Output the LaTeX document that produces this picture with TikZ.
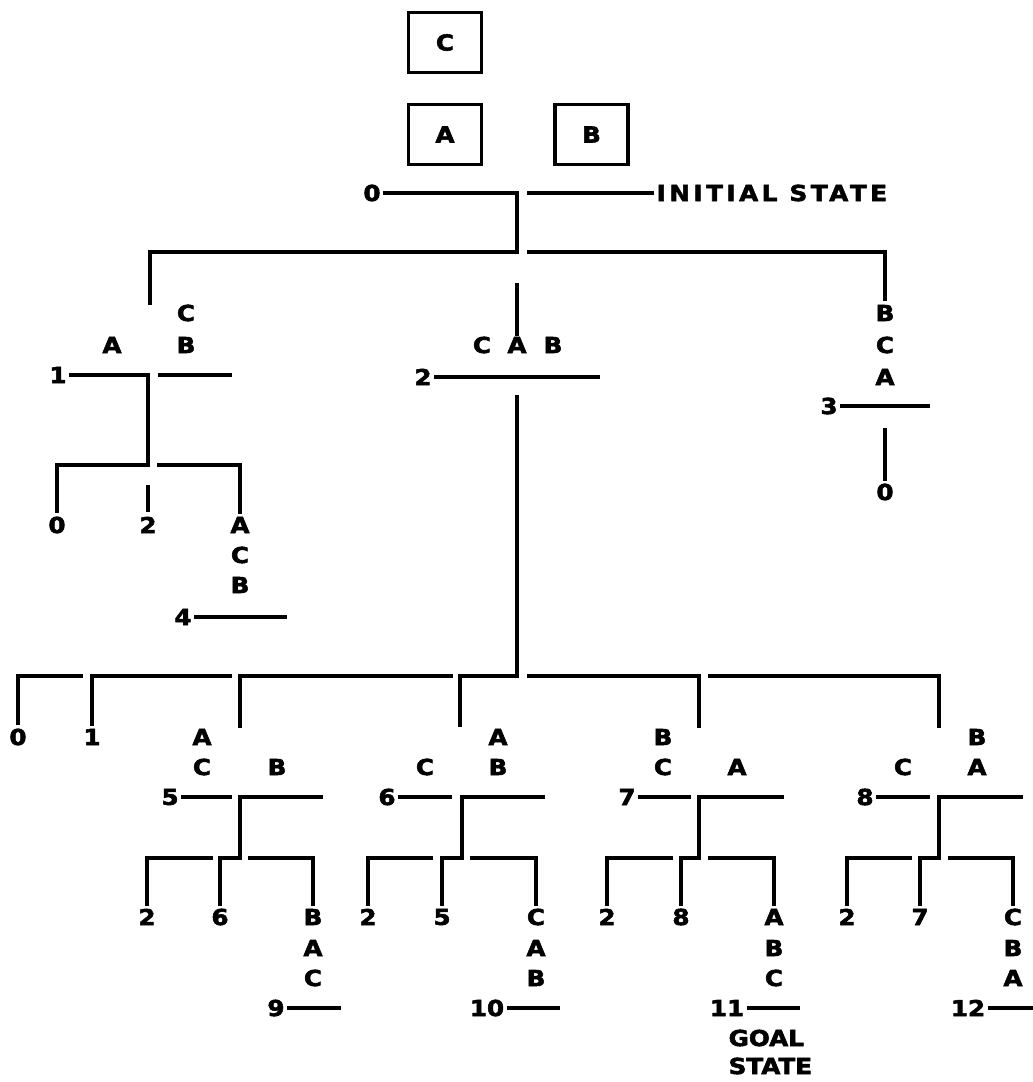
\documentclass[tikz,border=0pt]{standalone}
\usepackage{fontspec}
\newfontfamily\plotfont{DejaVu Sans}[BoldFeatures={FakeBold=2.5,FakeStretch=1.12}]
\newcommand\plotsize{\fontsize{22}{22}\selectfont}
\tikzset{
  lbl/.style={font=\plotfont\bfseries\plotsize, inner sep=1pt},
  spaced/.style={lbl, anchor=west, font=\plotfont\bfseries\plotsize\addfontfeature{LetterSpace=#1}},
  blk/.style={lbl, draw, line width=3.3pt, minimum width=73pt, minimum height=60pt},
}
\begin{document}
\begin{tikzpicture}[x=1pt,y=-1pt,line width=3.3pt,line join=miter]
\useasboundingbox (0,0) rectangle (1033,1082);
% blocks of the initial state
\node[blk] (boxC) at (445,42.5) {C};
\node[blk] (boxA) at (445,134.5) {A};
\node[blk] (boxB) at (591.5,134.5) {B};

% ---------- state 0 ----------
\node[lbl] (s0) at (372,193) {0};
\node[spaced=16] (init) at (654,193) {INITIAL STATE};
\coordinate (j0) at (517,193);
\coordinate (j0b) at (517,252);
\coordinate (l1top) at (150,252);
\coordinate (l1end) at (150,305);
\coordinate (r0) at (527,193);
\coordinate (r1) at (527,252);
\coordinate (r3top) at (885,252);
\coordinate (m2top) at (517,283);
\draw (s0.east) -- (j0) -- (j0b) -- (l1top) -- (l1end);
\draw (r0) -- (init.west);
\draw (r1) -- (r3top) -- (885,301);
\draw (m2top) -- (517,336);

% ---------- state 1 ----------
\node[lbl] (a1) at (112,345) {A};
\node[lbl] (c1) at (186,313) {C};
\node[lbl] (b1) at (186,345) {B};
\node[lbl] (s1) at (58,375) {1};
\coordinate (j1) at (148,375);
\coordinate (j1b) at (148,465);
\draw (s1.east) -- (j1) -- (j1b) -- (57,465) -- (57,513);
\draw (158,375) -- (232,375);
\draw (157,465) -- (240,465) -- (240,514);
\draw (148,485) -- (148,512);
\node[lbl] (z1) at (57,525) {0};
\node[lbl] (t1) at (148,525) {2};

% ---------- state 4 ----------
\node[lbl] (a4) at (240,525) {A};
\node[lbl] (c4) at (240,555) {C};
\node[lbl] (b4) at (240,585) {B};
\node[lbl] (s4) at (183,617) {4};
\draw (s4.east) -- (287,617);

% ---------- state 2 ----------
\node[lbl] (c2) at (482,345) {C};
\node[lbl] (a2) at (517,345) {A};
\node[lbl] (b2) at (553,345) {B};
\node[lbl] (s2) at (423,377) {2};
\draw (s2.east) -- (600,377);
\coordinate (t2) at (517,395);
\coordinate (t2b) at (517,676);
\draw (t2) -- (t2b) -- (460,676) -- (460,727);
\draw (453,676) -- (240,676) -- (240,728);
\draw (232,676) -- (92,676) -- (92,726);
\draw (83,676) -- (18,676) -- (18,725);
\draw (527,676) -- (699,676) -- (699,728);
\draw (708,676) -- (939,676) -- (939,728);
\node[lbl] (z2) at (18,737) {0};
\node[lbl] (o2) at (92,737) {1};

% ---------- state 3 ----------
\node[lbl] (b3) at (885,313) {B};
\node[lbl] (c3) at (885,345) {C};
\node[lbl] (a3) at (885,377) {A};
\node[lbl] (s3) at (829,406) {3};
\draw (s3.east) -- (930,406);
\node[lbl] (z3) at (885,492) {0};
\draw (885,428) -- (z3.north);

% ---------- state 5 ----------
\node[lbl] (a5) at (202,737) {A};
\node[lbl] (c5) at (202,767) {C};
\node[lbl] (b5) at (277,767) {B};
\node[lbl] (s5) at (170,797) {5};
\draw (s5.east) -- (232,797);
\node[lbl] (t5) at (147,917) {2};
\node[lbl] (x5) at (220,917) {6};
\node[lbl] (b9) at (313,917) {B};
\node[lbl] (a9) at (313,948) {A};
\node[lbl] (c9) at (313,978) {C};
\node[lbl] (s9) at (276,1008) {9};
\draw (323,797) -- (240,797) -- (240,858) -- (220,858) -- (x5.north);
\draw (213,858) -- (147,858) -- (t5.north);
\draw (248,858) -- (313,858) -- (b9.north);
\draw (s9.east) -- (341,1008);

% ---------- state 6 ----------
\node[lbl] (a6) at (498,737) {A};
\node[lbl] (c6) at (425,767) {C};
\node[lbl] (b6) at (498,767) {B};
\node[lbl] (s6) at (387,797) {6};
\draw (s6.east) -- (452,797);
\node[lbl] (t6) at (368,917) {2};
\node[lbl] (x6) at (442,917) {5};
\node[lbl] (c10) at (536,917) {C};
\node[lbl] (a10) at (536,948) {A};
\node[lbl] (b10) at (536,978) {B};
\node[lbl] (s10) at (487,1008) {10};
\draw (545,797) -- (462,797) -- (462,858) -- (442,858) -- (x6.north);
\draw (433,858) -- (368,858) -- (t6.north);
\draw (470,858) -- (536,858) -- (c10.north);
\draw (s10.east) -- (560,1008);

% ---------- state 7 ----------
\node[lbl] (b7) at (663,737) {B};
\node[lbl] (c7) at (663,767) {C};
\node[lbl] (a7) at (737,767) {A};
\node[lbl] (s7) at (627,797) {7};
\draw (s7.east) -- (691,797);
\node[lbl] (t7) at (607,917) {2};
\node[lbl] (x7) at (681,917) {8};
\node[lbl] (a11) at (774,917) {A};
\node[lbl] (b11) at (774,948) {B};
\node[lbl] (c11) at (774,978) {C};
\node[lbl] (s11) at (727,1008) {11};
\draw (784,797) -- (699,797) -- (699,858) -- (681,858) -- (x7.north);
\draw (673,858) -- (607,858) -- (t7.north);
\draw (708,858) -- (774,858) -- (a11.north);
\draw (s11.east) -- (800,1008);
\node[spaced=0] (goal) at (726,1038) {GOAL};
\node[spaced=0] (goalst) at (726,1066) {STATE};

% ---------- state 8 ----------
\node[lbl] (b8) at (977,737) {B};
\node[lbl] (c8) at (903,767) {C};
\node[lbl] (a8) at (977,767) {A};
\node[lbl] (s8) at (865,797) {8};
\draw (s8.east) -- (930,797);
\node[lbl] (t8) at (847,917) {2};
\node[lbl] (x8) at (920,917) {7};
\node[lbl] (c12) at (1013,917) {C};
\node[lbl] (b12) at (1013,948) {B};
\node[lbl] (a12) at (1013,978) {A};
\node[lbl] (s12) at (968,1008) {12};
\draw (1023,797) -- (939,797) -- (939,858) -- (920,858) -- (x8.north);
\draw (912,858) -- (847,858) -- (t8.north);
\draw (948,858) -- (1013,858) -- (c12.north);
\draw (s12.east) -- (1033,1008);
\end{tikzpicture}
\end{document}
